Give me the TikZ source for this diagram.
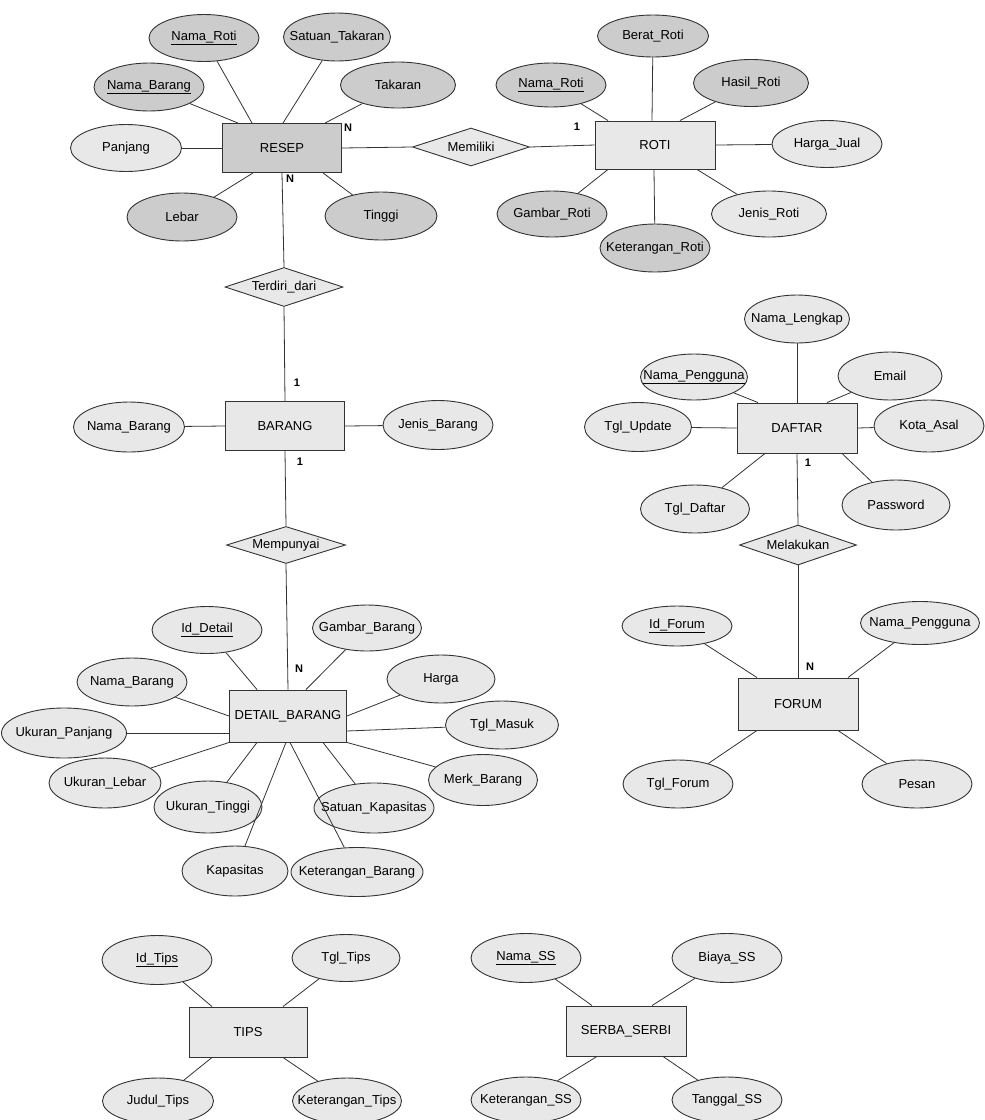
\documentclass[tikz,border=0pt]{standalone}
\usepackage{fontspec}
\setmainfont{Liberation Sans}
\usetikzlibrary{shapes.geometric,calc}
\definecolor{dk}{gray}{0.80}
\definecolor{lt}{gray}{0.91}
\definecolor{ln}{gray}{0.2}
\newcommand{\zt}[1]{\makebox[0pt]{#1}}
\begin{document}
\begin{tikzpicture}[x=1pt,y=-1pt,
 every node/.style={font=\fontsize{13}{15}\selectfont},
 attr/.style n args={2}{ellipse,draw=ln,line width=0.9pt,fill=lt,inner sep=0pt,minimum width=#1,minimum height=#2},
 ent/.style n args={2}{rectangle,draw=ln,line width=0.9pt,fill=lt,inner sep=0pt,minimum width=#1,minimum height=#2},
 rel/.style n args={2}{diamond,draw=ln,line width=0.9pt,fill=lt,inner sep=0pt,minimum width=#1,minimum height=#2},
 card/.style={font=\fontsize{11}{13}\selectfont\bfseries,inner sep=0pt},
 conn/.style={draw=ln,line width=0.8pt}]
\useasboundingbox[fill=white] (0,0) rectangle (985,1120);

% ---------- RESEP ----------
\node[ent={119}{49},fill=dk] (resep) at (282,148) {RESEP};
\node[attr={110}{48},fill=dk] (rnb) at (149,87) {\zt{\underline{Nama\_Barang}}};
\node[attr={110}{47},fill=dk] (rnr) at (204,38) {\zt{\underline{Nama\_Roti}}};
\node[attr={107}{48},fill=dk] (rst) at (337,37) {\zt{Satuan\_Takaran}};
\node[attr={115}{46},fill=dk] (rtk) at (398,85) {\zt{Takaran}};
\node[attr={111}{47}] (rpj) at (126,148) {\zt{Panjang}};
\node[attr={110}{48},fill=dk] (rlb) at (182,217) {\zt{Lebar}};
\node[attr={112}{48},fill=dk] (rtg) at (381,216) {\zt{Tinggi}};

\node[rel={117}{38}] (memiliki) at (471,147) {\zt{Memiliki}};

% ---------- ROTI ----------
\node[ent={120}{48}] (roti) at (655,145) {ROTI};
\node[attr={110}{44},fill=dk] (onr) at (551,85) {\zt{\underline{Nama\_Roti}}};
\node[attr={111}{42},fill=dk] (obr) at (653,36) {\zt{Berat\_Roti}};
\node[attr={115}{47},fill=dk] (ohr) at (751,83) {\zt{Hasil\_Roti}};
\node[attr={110}{47}] (ohj) at (827,144) {\zt{Harga\_Jual}};
\node[attr={110}{46},fill=dk] (ogr) at (552,214) {\zt{Gambar\_Roti}};
\node[attr={110}{48},fill=dk] (okr) at (655,248) {\zt{Keterangan\_Roti}};
\node[attr={115}{46}] (ojr) at (769,214) {\zt{Jenis\_Roti}};

% ---------- BARANG ----------
\node[rel={118}{39}] (terdiri) at (284,287) {\zt{Terdiri\_dari}};
\node[ent={119}{49}] (barang) at (285,426) {BARANG};
\node[attr={111}{50}] (bnb) at (129,427) {\zt{Nama\_Barang}};
\node[attr={110}{49}] (bjb) at (438,425) {\zt{Jenis\_Barang}};
\node[rel={119}{37}] (mempunyai) at (286,545) {\zt{Mempunyai}};

% ---------- DETAIL_BARANG ----------
\node[ent={117}{52}] (detail) at (288,716) {DETAIL\_BARANG};
\node[attr={110}{47}] (did) at (207,630) {\zt{\underline{Id\_Detail}}};
\node[attr={109}{46}] (dgb) at (367,628) {\zt{Gambar\_Barang}};
\node[attr={110}{48}] (dnb) at (132,682) {\zt{Nama\_Barang}};
\node[attr={108}{48}] (dhg) at (441,679) {\zt{Harga}};
\node[attr={125}{50}] (dup) at (64,733) {\zt{Ukuran\_Panjang}};
\node[attr={113}{48}] (dtm) at (502,725) {\zt{Tgl\_Masuk}};
\node[attr={112}{50}] (dul) at (105,783) {\zt{Ukuran\_Lebar}};
\node[attr={109}{51}] (dmb) at (483,780) {\zt{Merk\_Barang}};
\node[attr={108}{52}] (dut) at (208,807) {\zt{Ukuran\_Tinggi}};
\node[attr={120}{50}] (dsk) at (374,808) {\zt{Satuan\_Kapasitas}};
\node[attr={106}{50}] (dkp) at (235,871) {\zt{Kapasitas}};
\node[attr={132}{49}] (dkb) at (357,872) {\zt{Keterangan\_Barang}};

% ---------- DAFTAR ----------
\node[ent={120}{50}] (daftar) at (797,428) {DAFTAR};
\node[attr={105}{48}] (anl) at (797,319) {\zt{Nama\_Lengkap}};
\node[attr={107}{46}] (anp) at (694,377) {\zt{\underline{Nama\_Pengguna}}};
\node[attr={104}{48}] (aem) at (890,376) {\zt{Email}};
\node[attr={107}{49}] (atu) at (638,427) {\zt{Tgl\_Update}};
\node[attr={110}{52}] (aka) at (929,426) {\zt{Kota\_Asal}};
\node[attr={109}{48}] (atd) at (695,509) {\zt{Tgl\_Daftar}};
\node[attr={108}{50}] (apw) at (896,505) {\zt{Password}};
\node[rel={117}{40}] (melakukan) at (798,545) {\zt{Melakukan}};

% ---------- FORUM ----------
\node[ent={120}{52}] (forum) at (798,704) {FORUM};
\node[attr={110}{40}] (fid) at (677,626) {\zt{\underline{Id\_Forum}}};
\node[attr={119}{43}] (fnp) at (920,623) {\zt{Nama\_Pengguna}};
\node[attr={110}{48}] (ftf) at (678,784) {\zt{Tgl\_Forum}};
\node[attr={110}{48}] (fps) at (917,784) {\zt{Pesan}};

% ---------- TIPS ----------
\node[ent={118}{50}] (tips) at (248,1032) {TIPS};
\node[attr={110}{49}] (tid) at (157,960) {\zt{\underline{Id\_Tips}}};
\node[attr={108}{47}] (ttg) at (346,958) {\zt{Tgl\_Tips}};
\node[attr={111}{46}] (tjd) at (158,1101) {\zt{Judul\_Tips}};
\node[attr={109}{46}] (tkt) at (347,1101) {\zt{Keterangan\_Tips}};

% ---------- SERBA_SERBI ----------
\node[ent={120}{50}] (ss) at (626,1031) {SERBA\_SERBI};
\node[attr={110}{49}] (snm) at (526,958) {\zt{\underline{Nama\_SS}}};
\node[attr={110}{49}] (sby) at (727,958) {\zt{Biaya\_SS}};
\node[attr={110}{46}] (skt) at (526,1100) {\zt{Keterangan\_SS}};
\node[attr={110}{46}] (stg) at (727,1100) {\zt{Tanggal\_SS}};

% ---------- connectors ----------
\draw[conn] (rnb) -- ($(resep.north)+(-44,0)$);
\draw[conn] (rnr) -- ($(resep.north)+(-30,0)$);
\draw[conn] (rst) -- ($(resep.north)+(1,0)$);
\draw[conn] (rtk) -- ($(resep.north)+(43,0)$);
\draw[conn] (rpj) -- (resep.west);
\draw[conn] (rlb) -- ($(resep.south)+(-29,0)$);
\draw[conn] (rtg) -- ($(resep.south)+(41,0)$);
\draw[conn] (resep.east) -- (memiliki.west);
\draw[conn] (memiliki.east) -- (roti.west);
\draw[conn] (resep.south) -- (terdiri.north);
\draw[conn] (terdiri.south) -- (barang.north);
\draw[conn] (barang.south) -- (mempunyai.north);
\draw[conn] (mempunyai.south) -- (detail.north);

\draw[conn] (onr) -- ($(roti.north)+(-47,0)$);
\draw[conn] (obr) -- ($(roti.north)+(-3,0)$);
\draw[conn] (ohr) -- ($(roti.north)+(25,0)$);
\draw[conn] (ohj) -- (roti.east);
\draw[conn] (ogr) -- ($(roti.south)+(-47,0)$);
\draw[conn] (okr) -- ($(roti.south)+(-1,0)$);
\draw[conn] (ojr) -- ($(roti.south)+(42,0)$);

\draw[conn] (bnb) -- (barang.west);
\draw[conn] (bjb) -- (barang.east);

\draw[conn] (did) -- ($(detail.north)+(-31,0)$);
\draw[conn] (dgb) -- ($(detail.north)+(18,0)$);
\draw[conn] (dnb) -- (detail.west);
\draw[conn] (dhg) -- (detail.east);
\draw[conn] (dup) -- ($(detail.west)+(0,17)$);
\draw[conn] (dtm) -- ($(detail.east)+(0,15)$);
\draw[conn] (dul) -- (detail.south west);
\draw[conn] (dmb) -- (detail.south east);
\draw[conn] (dut) -- ($(detail.south)+(-31,0)$);
\draw[conn] (dsk) -- ($(detail.south)+(35,0)$);
\draw[conn] (dkp) -- ($(detail.south)+(-2,0)$);
\draw[conn] (dkb) -- ($(detail.south)+(2,0)$);

\draw[conn] (anl) -- (daftar.north);
\draw[conn] (anp) -- ($(daftar.north)+(-39,0)$);
\draw[conn] (aem) -- ($(daftar.north)+(30,0)$);
\draw[conn] (atu) -- (daftar.west);
\draw[conn] (aka) -- (daftar.east);
\draw[conn] (atd) -- ($(daftar.south)+(-32,0)$);
\draw[conn] (apw) -- ($(daftar.south)+(45,0)$);
\draw[conn] (daftar.south) -- (melakukan.north);
\draw[conn] (melakukan.south) -- (forum.north);

\draw[conn] (fid) -- ($(forum.north)+(-41,0)$);
\draw[conn] (fnp) -- ($(forum.north)+(50,0)$);
\draw[conn] (ftf) -- ($(forum.south)+(-41,0)$);
\draw[conn] (fps) -- ($(forum.south)+(40,0)$);

\draw[conn] (tid) -- ($(tips.north)+(-36,0)$);
\draw[conn] (ttg) -- ($(tips.north)+(35,0)$);
\draw[conn] (tjd) -- ($(tips.south)+(-36,0)$);
\draw[conn] (tkt) -- ($(tips.south)+(35,0)$);

\draw[conn] (snm) -- ($(ss.north)+(-34,0)$);
\draw[conn] (sby) -- ($(ss.north)+(26,0)$);
\draw[conn] (skt) -- ($(ss.south)+(-29,0)$);
\draw[conn] (stg) -- ($(ss.south)+(37,0)$);

% ---------- cardinalities ----------
\node[card] (cn1) at (348,128) {N};
\node[card] (cn2) at (290,179) {N};
\node[card] (c11) at (577,127) {1};
\node[card] (c12) at (297,383) {1};
\node[card] (c13) at (300,462) {1};
\node[card] (c14) at (808,463) {1};
\node[card] (cn3) at (299,669) {N};
\node[card] (cn4) at (810,667) {N};
\end{tikzpicture}
\end{document}
